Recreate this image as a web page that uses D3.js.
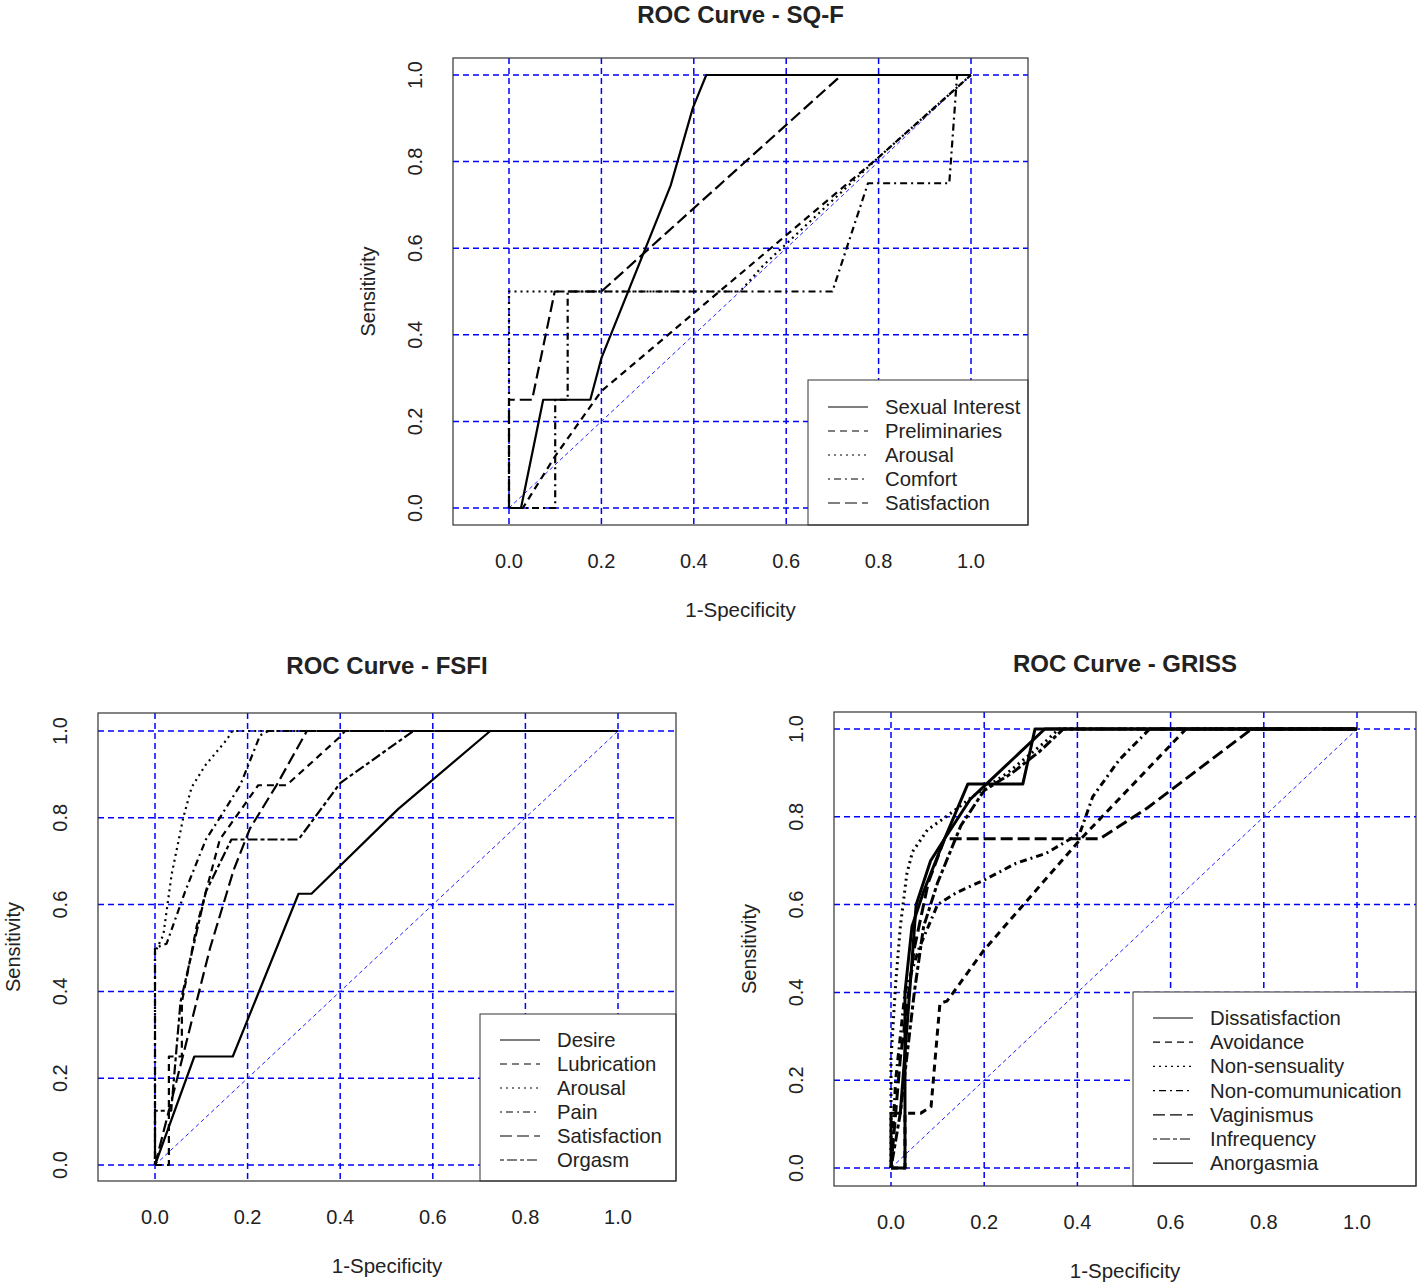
<!DOCTYPE html>
<html><head><meta charset="utf-8">
<script src="https://cdn.jsdelivr.net/npm/d3@7"></script>
<style>body{margin:0;background:#fff}svg{display:block}text{font-family:"Liberation Sans",Arial,sans-serif;fill:#222}</style>
</head><body><svg id="c" width="1418" height="1286"></svg>
<script>
// ---- data ----
const tickValues = [0, 0.2, 0.4, 0.6, 0.8, 1.0];
const tickLabels = ["0.0", "0.2", "0.4", "0.6", "0.8", "1.0"];

const sqfTitle = "ROC Curve - SQ-F";
const sqfSeries = ["Sexual Interest", "Preliminaries", "Arousal", "Comfort", "Satisfaction"];
const sqfSexualInterest = [[0,0],[0.026,0],[0.074,0.25],[0.176,0.25],[0.2,0.346],[0.35,0.745],[0.398,0.924],[0.427,1],[1,1]];
const sqfPreliminaries = [[0,0],[0.03,0],[0.1,0.12],[0.2,0.27],[0.4,0.45],[0.6,0.63],[0.8,0.81],[1,1]];
const sqfArousal = [[0,0],[0,0.5],[0.5,0.5],[0.55,0.56],[0.8,0.81],[1,1]];
const sqfComfort = [[0,0],[0.1,0],[0.1,0.25],[0.127,0.25],[0.127,0.5],[0.7,0.5],[0.777,0.75],[0.953,0.75],[0.97,1],[1,1]];
const sqfSatisfaction = [[0,0],[0,0.25],[0.05,0.25],[0.099,0.5],[0.2,0.5],[0.72,1],[1,1]];

const fsfiTitle = "ROC Curve - FSFI";
const fsfiSeries = ["Desire", "Lubrication", "Arousal", "Pain", "Satisfaction", "Orgasm"];
const fsfiDesire = [[0,0],[0.085,0.25],[0.168,0.25],[0.31,0.625],[0.338,0.625],[0.525,0.82],[0.724,1],[1,1]];
const fsfiLubrication = [[0,0],[0.03,0],[0.03,0.25],[0.058,0.25],[0.058,0.375],[0.09,0.55],[0.14,0.75],[0.223,0.875],[0.284,0.875],[0.403,0.99],[0.41,1],[1,1]];
const fsfiArousal = [[0,0],[0,0.49],[0.018,0.53],[0.036,0.67],[0.061,0.8],[0.079,0.87],[0.108,0.92],[0.155,0.98],[0.167,1],[1,1]];
const fsfiPain = [[0,0],[0,0.5],[0.025,0.51],[0.065,0.63],[0.11,0.75],[0.14,0.8],[0.184,0.875],[0.227,0.99],[0.245,1],[1,1]];
const fsfiSatisfaction = [[0,0],[0.06,0.25],[0.119,0.5],[0.17,0.68],[0.205,0.775],[0.263,0.876],[0.328,1],[1,1]];
const fsfiOrgasm = [[0,0],[0,0.125],[0.035,0.125],[0.055,0.375],[0.11,0.63],[0.165,0.75],[0.31,0.75],[0.4,0.88],[0.558,1],[1,1]];

const grissTitle = "ROC Curve - GRISS";
const grissSeries = ["Dissatisfaction", "Avoidance", "Non-sensuality", "Non-comumunication", "Vaginismus", "Infrequency", "Anorgasmia"];
const grissDissatisfaction = [[0,0],[0,0.125],[0.02,0.125],[0.04,0.4],[0.054,0.6],[0.085,0.7],[0.115,0.75],[0.165,0.875],[0.283,0.875],[0.309,1],[1,1]];
const grissAvoidance = [[0,0],[0.03,0],[0.03,0.125],[0.064,0.125],[0.086,0.14],[0.105,0.375],[0.12,0.38],[0.2,0.497],[0.405,0.747],[0.633,1],[1,1]];
const grissNonSensuality = [[0,0],[0,0.25],[0.01,0.42],[0.02,0.55],[0.034,0.67],[0.046,0.72],[0.078,0.77],[0.118,0.8],[0.18,0.85],[0.25,0.9],[0.33,0.97],[0.36,1],[1,1]];
const grissNonCommunication = [[0,0],[0.01,0.2],[0.03,0.4],[0.06,0.5],[0.1,0.6],[0.14,0.627],[0.2,0.656],[0.268,0.694],[0.333,0.717],[0.405,0.762],[0.433,0.846],[0.49,0.93],[0.555,1],[1,1]];
const grissVaginismus = [[0,0],[0.02,0.25],[0.05,0.5],[0.08,0.65],[0.115,0.75],[0.448,0.75],[0.55,0.82],[0.774,1],[1,1]];
const grissInfrequency = [[0,0],[0.02,0.125],[0.05,0.4],[0.07,0.55],[0.1,0.65],[0.15,0.78],[0.2,0.86],[0.26,0.9],[0.32,0.95],[0.37,1],[1,1]];
const grissAnorgasmia = [[0,0],[0.03,0],[0.03,0.4],[0.045,0.55],[0.07,0.63],[0.115,0.75],[0.17,0.84],[0.2,0.87],[0.26,0.93],[0.33,1],[1,1]];

const xLabel = "1-Specificity";
const yLabel = "Sensitivity";

// ---- styles ----
const DASH = {solid: null, dashed: "7,5", dotted: "2,4", dotdash: "2,4,7,4", longdash: "12,5", twodash: "4,3,10,3"};
const sqfDash = ["solid","dashed","dotted","dotdash","longdash"];
const fsfiDash = ["solid","dashed","dotted","dotdash","longdash","twodash"];
const grissDash = ["solid","dashed","dotted","dotdash","longdash","twodash","solid"];

const svg = d3.select("#c");

function panel(cfg) {
  const g = svg.append("g");
  const x = d3.scaleLinear().domain(cfg.xdom).range([cfg.left, cfg.right]);
  const y = d3.scaleLinear().domain(cfg.ydom).range([cfg.bottom, cfg.top]);
  const [x0, x1] = [cfg.left, cfg.right], [y0, y1] = [cfg.top, cfg.bottom];
  // grid
  g.selectAll(".gv").data(tickValues).enter().append("line")
    .attr("x1", d => x(d)).attr("x2", d => x(d)).attr("y1", y0).attr("y2", y1)
    .attr("stroke", "#0000ff").attr("stroke-width", 1.5).attr("stroke-dasharray", "6,4");
  g.selectAll(".gh").data(tickValues).enter().append("line")
    .attr("y1", d => y(d)).attr("y2", d => y(d)).attr("x1", x0).attr("x2", x1)
    .attr("stroke", "#0000ff").attr("stroke-width", 1.5).attr("stroke-dasharray", "6,4");
  // diagonal
  g.append("line").attr("x1", x(0)).attr("y1", y(0)).attr("x2", x(1)).attr("y2", y(1))
    .attr("stroke", "#2222ff").attr("stroke-width", 1).attr("stroke-dasharray", "4,3");
  // curves
  const line = d3.line().x(d => x(d[0])).y(d => y(d[1]));
  cfg.data.forEach((s, i) => {
    g.append("path").attr("d", line(s)).attr("fill", "none").attr("stroke", "#000")
      .attr("stroke-width", cfg.lw).attr("stroke-linejoin", "round")
      .attr("stroke-dasharray", DASH[cfg.dash[i]]);
  });
  // legend
  const L = cfg.legend;
  g.append("rect").attr("x", L.x).attr("y", L.y).attr("width", x1 - L.x).attr("height", y1 - L.y)
    .attr("fill", "#fff").attr("stroke", "#333").attr("stroke-width", 1);
  cfg.names.forEach((n, i) => {
    const yy = L.y0 + i * L.step;
    g.append("line").attr("x1", L.lx).attr("x2", L.lx + 40).attr("y1", yy).attr("y2", yy)
      .attr("stroke", "#000").attr("stroke-width", 1.2).attr("stroke-dasharray", DASH[cfg.dash[i]]);
    g.append("text").attr("x", L.lx + 57).attr("y", yy + 7).attr("font-size", 20.3).text(n);
  });
  // frame
  g.append("rect").attr("x", x0).attr("y", y0).attr("width", x1 - x0).attr("height", y1 - y0)
    .attr("fill", "none").attr("stroke", "#333").attr("stroke-width", 1.2);
  // tick labels
  g.selectAll(".xt").data(tickValues).enter().append("text")
    .attr("x", d => x(d)).attr("y", cfg.bottom + 43).attr("text-anchor", "middle")
    .attr("font-size", 20).text((d, i) => tickLabels[i]);
  g.selectAll(".yt").data(tickValues).enter().append("text")
    .attr("transform", d => `translate(${cfg.left - 31},${y(d)}) rotate(-90)`)
    .attr("text-anchor", "middle").attr("font-size", 20).text((d, i) => tickLabels[i]);
  // axis titles
  g.append("text").attr("x", (x0 + x1) / 2).attr("y", cfg.bottom + 92).attr("text-anchor", "middle")
    .attr("font-size", 20.5).text(xLabel);
  g.append("text").attr("transform", `translate(${cfg.left - 78},${(y0 + y1) / 2}) rotate(-90)`)
    .attr("text-anchor", "middle").attr("font-size", 20).text(yLabel);
  g.append("text").attr("x", (x0 + x1) / 2).attr("y", cfg.titleY).attr("text-anchor", "middle")
    .attr("font-size", 24).attr("font-weight", "bold").text(cfg.title);
}

panel({left: 453, right: 1028, top: 58, bottom: 525,
  xdom: [(453 - 509) / 462, (1028 - 509) / 462], ydom: [(508 - 525) / 433, (508 - 58) / 433],
  title: sqfTitle, titleY: 23, lw: 2.2,
  data: [sqfSexualInterest, sqfPreliminaries, sqfArousal, sqfComfort, sqfSatisfaction],
  names: sqfSeries, dash: sqfDash,
  legend: {x: 808, y: 380, lx: 828, y0: 407, step: 24}});

panel({left: 98, right: 676, top: 713, bottom: 1181,
  xdom: [(98 - 155) / 463, (676 - 155) / 463], ydom: [(1165 - 1181) / 434, (1165 - 713) / 434],
  title: fsfiTitle, titleY: 674, lw: 2.2,
  data: [fsfiDesire, fsfiLubrication, fsfiArousal, fsfiPain, fsfiSatisfaction, fsfiOrgasm],
  names: fsfiSeries, dash: fsfiDash,
  legend: {x: 480, y: 1014, lx: 500, y0: 1040, step: 24}});

panel({left: 834, right: 1416, top: 712, bottom: 1186,
  xdom: [(834 - 891) / 466, (1416 - 891) / 466], ydom: [(1168 - 1186) / 439, (1168 - 712) / 439],
  title: grissTitle, titleY: 672, lw: 3,
  data: [grissDissatisfaction, grissAvoidance, grissNonSensuality, grissNonCommunication, grissVaginismus, grissInfrequency, grissAnorgasmia],
  names: grissSeries, dash: grissDash,
  legend: {x: 1133, y: 992, lx: 1153, y0: 1018, step: 24.2}});
</script></body></html>
